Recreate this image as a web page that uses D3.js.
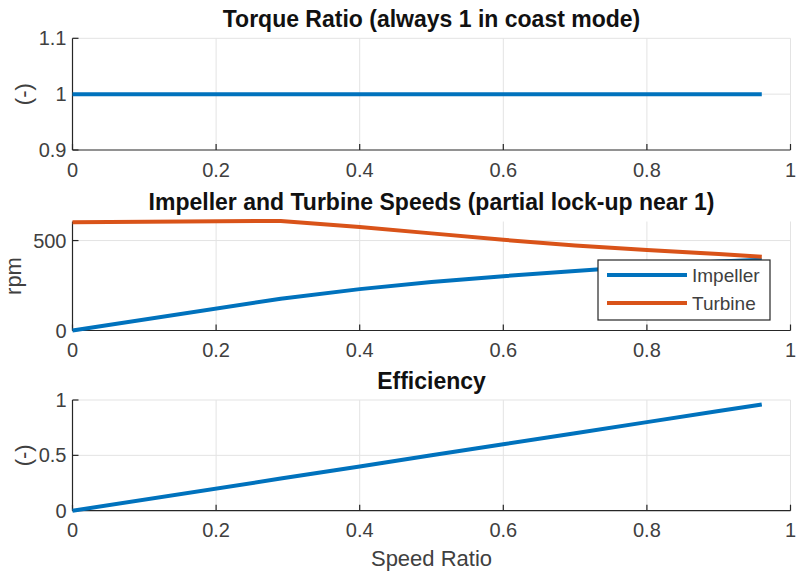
<!DOCTYPE html>
<html>
<head>
<meta charset="utf-8">
<script src="https://cdn.jsdelivr.net/npm/d3@7"></script>
<style>
  html, body { margin: 0; padding: 0; background: #fff; }
  svg { display: block; font-family: "Liberation Sans", Arial, Helvetica, sans-serif; }
</style>
</head>
<body>
<svg id="chart" width="796" height="575"></svg>
<script>
// ---- data ----
const speedRatio   = [0, 0.29, 0.4, 0.5, 0.6, 0.7, 0.8, 0.9, 0.96];
const torqueRatio  = [1, 1, 1, 1, 1, 1, 1, 1, 1];
const impellerRpm  = [0, 177, 230, 270, 302, 331, 358, 383, 394];
const turbineRpm   = [602, 609, 575, 540, 504, 473, 447, 425, 410];
const efficiency   = [0, 0.29, 0.4, 0.5, 0.6, 0.7, 0.8, 0.9, 0.96];

const xTicks   = [0, 0.2, 0.4, 0.6, 0.8, 1];
const xTickLabels = ["0", "0.2", "0.4", "0.6", "0.8", "1"];
const trTicks  = [0.9, 1, 1.1];
const trTickLabels = ["0.9", "1", "1.1"];
const rpmTicks = [0, 500];
const rpmTickLabels = ["0", "500"];
const effTicks = [0, 0.5, 1];
const effTickLabels = ["0", "0.5", "1"];

const titles = [
  "Torque Ratio (always 1 in coast mode)",
  "Impeller and Turbine Speeds (partial lock-up near 1)",
  "Efficiency"
];
const yLabels = ["(-)", "rpm", "(-)"];
const seriesNames = ["Impeller", "Turbine"];
const xLabel = "Speed Ratio";

// ---- styling ----
const BLUE = "#0072BD", ORANGE = "#D95319";
const AX = "#262626", GRID = "#e3e3e3", TICKTXT = "#404040";
const LW = 4;

const svg = d3.select("#chart");
const x = d3.scaleLinear().domain([0, 1]).range([72.5, 790.5]);

const panels = [
  { top: 38.3, bottom: 150, domain: [0.9, 1.1], ticks: trTicks, labels: trTickLabels,
    series: [{ vals: torqueRatio, color: BLUE }], ylabX: 31, gridTop: true },
  { top: 221.5, bottom: 330.5, domain: [0, 606], ticks: rpmTicks, labels: rpmTickLabels,
    series: [{ vals: impellerRpm, color: BLUE }, { vals: turbineRpm, color: ORANGE }], ylabX: 21, gridTop: false },
  { top: 400, bottom: 510.7, domain: [0, 1], ticks: effTicks, labels: effTickLabels,
    series: [{ vals: efficiency, color: BLUE }], ylabX: 31, gridTop: true }
];

panels.forEach((p, i) => {
  const y = d3.scaleLinear().domain(p.domain).range([p.bottom, p.top]);
  const g = svg.append("g");

  // grid
  g.selectAll(".gx").data(xTicks.filter(t => t > 0)).join("line")
    .attr("x1", d => x(d)).attr("x2", d => x(d))
    .attr("y1", p.top).attr("y2", p.bottom)
    .attr("stroke", GRID).attr("stroke-width", 1);
  g.selectAll(".gy").data(p.ticks.filter(t => t > p.domain[0])).join("line")
    .attr("x1", x(0)).attr("x2", x(1))
    .attr("y1", d => y(d)).attr("y2", d => y(d))
    .attr("stroke", GRID).attr("stroke-width", 1);

  // axes lines
  g.append("line").attr("x1", x(0)).attr("x2", x(1)).attr("y1", p.bottom).attr("y2", p.bottom)
    .attr("stroke", AX).attr("stroke-width", 1.2);
  g.append("line").attr("x1", x(0)).attr("x2", x(0)).attr("y1", p.top).attr("y2", p.bottom)
    .attr("stroke", AX).attr("stroke-width", 1.2);

  // ticks (inward)
  g.selectAll(".tx").data(xTicks).join("line")
    .attr("x1", d => x(d)).attr("x2", d => x(d))
    .attr("y1", p.bottom).attr("y2", p.bottom - 6)
    .attr("stroke", AX).attr("stroke-width", 1.2);
  g.selectAll(".ty").data(p.ticks).join("line")
    .attr("x1", x(0)).attr("x2", x(0) + 6)
    .attr("y1", d => y(d)).attr("y2", d => y(d))
    .attr("stroke", AX).attr("stroke-width", 1.2);

  // tick labels
  g.selectAll(".lx").data(xTicks).join("text")
    .attr("x", d => x(d)).attr("y", p.bottom + 26.5)
    .attr("text-anchor", "middle").attr("font-size", 20).attr("fill", TICKTXT)
    .text((d, j) => xTickLabels[j]);
  g.selectAll(".ly").data(p.ticks).join("text")
    .attr("x", x(0) - 6).attr("y", d => y(d) + 7)
    .attr("text-anchor", "end").attr("font-size", 20).attr("fill", TICKTXT)
    .text((d, j) => p.labels[j]);

  // y label
  g.append("text")
    .attr("transform", `translate(${p.ylabX},${(p.top + p.bottom) / 2}) rotate(-90)`)
    .attr("text-anchor", "middle").attr("font-size", 22).attr("fill", TICKTXT)
    .text(yLabels[i]);

  // title
  g.append("text")
    .attr("x", (x(0) + x(1)) / 2).attr("y", p.top - 11.5)
    .attr("text-anchor", "middle").attr("font-size", 23).attr("font-weight", "bold")
    .attr("fill", "#111").text(titles[i]);

  // lines
  const line = d3.line().x((d, j) => x(speedRatio[j])).y(d => y(d));
  p.series.forEach(s => {
    g.append("path").datum(s.vals).attr("d", line)
      .attr("fill", "none").attr("stroke", s.color).attr("stroke-width", LW)
      .attr("stroke-linejoin", "round");
  });
});

// legend (panel 2)
const lg = svg.append("g");
lg.append("rect").attr("x", 598).attr("y", 260).attr("width", 172).attr("height", 60)
  .attr("fill", "#fff").attr("stroke", AX).attr("stroke-width", 1.2);
[BLUE, ORANGE].forEach((c, k) => {
  const yy = 275 + k * 28;
  lg.append("line").attr("x1", 607).attr("x2", 687).attr("y1", yy).attr("y2", yy)
    .attr("stroke", c).attr("stroke-width", LW);
  lg.append("text").attr("x", 692).attr("y", yy + 7).attr("font-size", 19)
    .attr("fill", TICKTXT).text(seriesNames[k]);
});

// x label
svg.append("text").attr("x", (x(0) + x(1)) / 2).attr("y", 566)
  .attr("text-anchor", "middle").attr("font-size", 22).attr("fill", TICKTXT)
  .text(xLabel);
</script>
</body>
</html>
